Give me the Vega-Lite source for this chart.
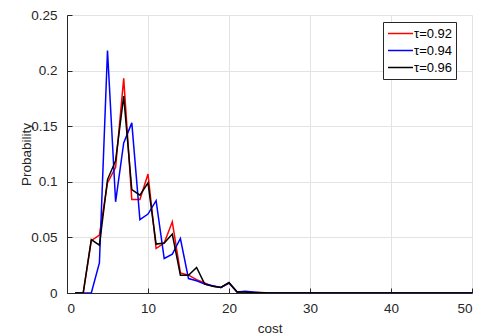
{
  "$schema": "https://vega.github.io/schema/vega-lite/v6.json",
  "width": 405,
  "height": 278,
  "autosize": "none",
  "padding": {"left": 67, "top": 15, "right": 8, "bottom": 42},
  "background": "white",
  "config": {
    "font": "Liberation Sans",
    "view": {"stroke": null},
    "axis": {
      "domainColor": "#262626",
      "tickColor": "#262626",
      "labelColor": "#262626",
      "titleColor": "#262626",
      "labelFontSize": 13.5,
      "titleFontSize": 13.5,
      "titleFontWeight": "normal",
      "gridColor": "#e3e3e3",
      "gridWidth": 1,
      "domainWidth": 1
    }
  },
  "data": {
    "values": [
      {"cost": 1, "r": 0, "b": 0, "k": 0},
      {"cost": 2, "r": 0, "b": 0, "k": 0},
      {"cost": 3, "r": 0.047, "b": 0, "k": 0.048},
      {"cost": 4, "r": 0.052, "b": 0.027, "k": 0.043},
      {"cost": 5, "r": 0.099, "b": 0.218, "k": 0.102},
      {"cost": 6, "r": 0.113, "b": 0.082, "k": 0.119},
      {"cost": 7, "r": 0.193, "b": 0.135, "k": 0.177},
      {"cost": 8, "r": 0.084, "b": 0.153, "k": 0.093},
      {"cost": 9, "r": 0.084, "b": 0.066, "k": 0.088},
      {"cost": 10, "r": 0.107, "b": 0.071, "k": 0.099},
      {"cost": 11, "r": 0.040, "b": 0.083, "k": 0.044},
      {"cost": 12, "r": 0.045, "b": 0.031, "k": 0.045},
      {"cost": 13, "r": 0.064, "b": 0.035, "k": 0.053},
      {"cost": 14, "r": 0.018, "b": 0.049, "k": 0.016},
      {"cost": 15, "r": 0.016, "b": 0.013, "k": 0.016},
      {"cost": 16, "r": 0.012, "b": 0.011, "k": 0.023},
      {"cost": 17, "r": 0.009, "b": 0.008, "k": 0.008},
      {"cost": 18, "r": 0.006, "b": 0.0065, "k": 0.006},
      {"cost": 19, "r": 0.005, "b": 0.005, "k": 0.005},
      {"cost": 20, "r": 0.009, "b": 0.009, "k": 0.0095},
      {"cost": 21, "r": 0.001, "b": 0.001, "k": 0.001},
      {"cost": 22, "r": 0.001, "b": 0.0015, "k": 0.001},
      {"cost": 23, "r": 0.0005, "b": 0.001, "k": 0.0003},
      {"cost": 24, "r": 0.0005, "b": 0.0003, "k": 0.0002},
      {"cost": 25, "r": 0, "b": 0, "k": 0},
      {"cost": 26, "r": 0, "b": 0, "k": 0},
      {"cost": 27, "r": 0, "b": 0, "k": 0},
      {"cost": 28, "r": 0, "b": 0, "k": 0},
      {"cost": 29, "r": 0, "b": 0, "k": 0},
      {"cost": 30, "r": 0, "b": 0, "k": 0},
      {"cost": 31, "r": 0, "b": 0, "k": 0},
      {"cost": 32, "r": 0, "b": 0, "k": 0},
      {"cost": 33, "r": 0, "b": 0, "k": 0},
      {"cost": 34, "r": 0, "b": 0, "k": 0},
      {"cost": 35, "r": 0, "b": 0, "k": 0},
      {"cost": 36, "r": 0, "b": 0, "k": 0},
      {"cost": 37, "r": 0, "b": 0, "k": 0},
      {"cost": 38, "r": 0, "b": 0, "k": 0},
      {"cost": 39, "r": 0, "b": 0, "k": 0},
      {"cost": 40, "r": 0, "b": 0, "k": 0},
      {"cost": 41, "r": 0, "b": 0, "k": 0},
      {"cost": 42, "r": 0, "b": 0, "k": 0},
      {"cost": 43, "r": 0, "b": 0, "k": 0},
      {"cost": 44, "r": 0, "b": 0, "k": 0},
      {"cost": 45, "r": 0, "b": 0, "k": 0},
      {"cost": 46, "r": 0, "b": 0, "k": 0},
      {"cost": 47, "r": 0, "b": 0, "k": 0},
      {"cost": 48, "r": 0, "b": 0, "k": 0},
      {"cost": 49, "r": 0, "b": 0, "k": 0},
      {"cost": 50, "r": 0, "b": 0, "k": 0}
    ]
  },
  "transform": [{"fold": ["r", "b", "k"], "as": ["series", "p"]}],
  "mark": {"type": "line", "strokeWidth": 1.5, "clip": true},
  "encoding": {
    "x": {
      "field": "cost", "type": "quantitative",
      "scale": {"domain": [0, 50], "nice": false},
      "axis": {"values": [0, 10, 20, 30, 40, 50], "title": "cost", "tickSize": -5, "labelPadding": 13, "titlePadding": 7}
    },
    "y": {
      "field": "p", "type": "quantitative",
      "scale": {"domain": [0, 0.25], "nice": false},
      "axis": {"values": [0, 0.05, 0.1, 0.15, 0.2, 0.25], "format": ".2~f", "title": "Probability", "tickSize": -5, "labelPadding": 15, "titlePadding": -3}
    },
    "color": {
      "field": "series", "type": "nominal",
      "scale": {"domain": ["r", "b", "k"], "range": ["#ff0000", "#0000ff", "#000000"]},
      "legend": {
        "title": null,
        "orient": "none",
        "legendX": 316,
        "legendY": 7,
        "direction": "vertical",
        "strokeColor": "#262626",
        "fillColor": "white",
        "padding": 3,
        "rowPadding": 0,
        "clipHeight": 17,
        "symbolType": "stroke",
        "symbolSize": 625,
        "symbolOffset": 1,
        "symbolStrokeWidth": 1.5,
        "labelFontSize": 13,
        "labelOffset": 0,
        "labelColor": "#000000",
        "labelExpr": "datum.value == 'r' ? 'τ=0.92\u00a0\u00a0\u00a0' : datum.value == 'b' ? 'τ=0.94\u00a0\u00a0\u00a0' : 'τ=0.96\u00a0\u00a0\u00a0'"
      }
    }
  }
}
